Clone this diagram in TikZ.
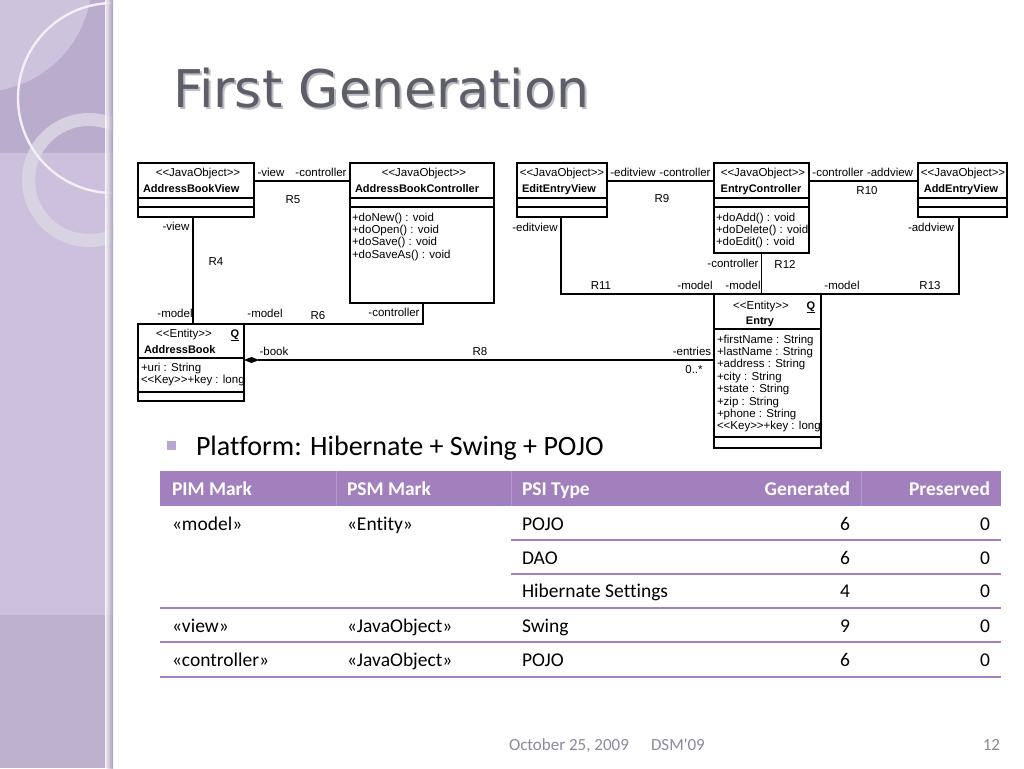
\documentclass[tikz,border=0pt]{standalone}
\usepackage{fontspec}
\setmainfont{Carlito}[Ligatures={CommonOff}]
\newfontfamily\footf{Carlito}[Ligatures={TeXOff,CommonOff}]
\newfontfamily\umlf{Liberation Sans}
\newfontfamily\ttlf{DejaVu Sans}
\usetikzlibrary{arrows.meta}
\definecolor{sideMid}{HTML}{CDC0DC}
\definecolor{sideTop}{HTML}{B9ACCD}
\definecolor{sideLight}{HTML}{CCC3DD}
\definecolor{sideBot}{HTML}{BEB1CD}
\definecolor{sideEdge}{HTML}{A497B4}
\definecolor{ringC}{HTML}{DAD6E3}
\definecolor{arcC}{HTML}{F2F0F6}
\definecolor{tblpurple}{HTML}{A27FBD}
\definecolor{tblsep}{HTML}{B497CC}
\definecolor{bulletC}{HTML}{B9A6D3}
\definecolor{ttlC}{HTML}{5E5E68}
\definecolor{ttlS}{HTML}{BDBDC4}
\definecolor{footC}{HTML}{8A8AA0}
\newcommand\umlfs{\umlf\fontsize{11.5}{12}\selectfont}
\newcommand\umlbfs{\umlf\bfseries\fontsize{11}{12}\selectfont}
\newcommand\tabfs{\fontsize{19.5}{23}\selectfont}
\newcommand\tabhfs{\bfseries\fontsize{19.5}{23}\selectfont}
\newcommand\footfs{\footf\fontsize{17}{20}\selectfont}
\begin{document}
\begin{tikzpicture}[x=1pt,y=-1pt,
  every node/.style={inner sep=0pt, outer sep=0pt},
  uml/.style={font=\umlfs, text=black, text height=8.6pt, text depth=0.2pt},
  umlb/.style={font=\umlbfs, text=black, text height=8.2pt, text depth=0.2pt},
  cls/.style={draw=black, line width=1.1pt, anchor=north west, inner sep=0pt, outer sep=0pt},
  conn/.style={draw=black, line width=1.1pt},
  tab/.style={font=\tabfs, text=black, text height=12.6pt, text depth=0pt},
  tabh/.style={font=\tabhfs, text=white, text height=12.6pt, text depth=0pt},
  sep/.style={draw=tblpurple, line width=1.6pt},
  foot/.style={font=\footfs, text=footC, text height=11pt, text depth=0pt}
]
\useasboundingbox (0,0) rectangle (1024,768);
\fill[white] (0,0) rectangle (1024,768);
% ---------------- sidebar
\begin{scope}
  \clip (0,0) rectangle (113,768);
  \fill[sideMid] (0,0) rectangle (113,768);
  \fill[sideTop] (0,0) rectangle (113,153);
  \fill[sideLight] (-20,-20) circle[radius=112];
  \fill[sideBot] (0,615) rectangle (113,768);
  \draw[ringC, line width=13pt, opacity=0.9] (89,180) circle[radius=60.5];
  \draw[arcC, line width=2.4pt] (113,98) circle[radius=95];
  \shade[left color=sideMid!0, right color=sideEdge, opacity=0.8] (105,0) rectangle (113,768);
\end{scope}
% ---------------- title
\node[anchor=base west, font=\ttlf\fontsize{52}{60}\selectfont, text=ttlS] at (175,109) {First Generation};
\node[anchor=base west, font=\ttlf\fontsize{52}{60}\selectfont, text=ttlC] (title) at (173,107) {First Generation};
% ---------------- UML classes
\node[cls, minimum width=116pt, minimum height=54pt] (abv) at (138,163) {};
\node[cls, minimum width=144pt, minimum height=140pt] (abc) at (350,163) {};
\node[cls, minimum width=106pt, minimum height=77pt] (ab) at (138,324) {};
\node[cls, minimum width=90pt, minimum height=54pt] (eev) at (517,163) {};
\node[cls, minimum width=95pt, minimum height=90pt] (ec) at (714,163) {};
\node[cls, minimum width=89pt, minimum height=54pt] (aev) at (918,163) {};
\node[cls, minimum width=107pt, minimum height=154pt] (en) at (714,294) {};
% compartments
\foreach \b in {abv,abc,eev,ec,aev}{
  \draw[conn] ([yshift=-35pt]\b.north west) -- ([yshift=-35pt]\b.north east);
  \draw[conn] ([yshift=-44pt]\b.north west) -- ([yshift=-44pt]\b.north east);
}
\draw[conn] ([yshift=-34pt]ab.north west) -- ([yshift=-34pt]ab.north east);
\draw[conn] ([yshift=-68pt]ab.north west) -- ([yshift=-68pt]ab.north east);
\draw[conn] ([yshift=-35pt]en.north west) -- ([yshift=-35pt]en.north east);
\draw[conn] ([yshift=-143pt]en.north west) -- ([yshift=-143pt]en.north east);
% class texts
\node[uml] at (198,172) {<{}<JavaObject>{}>};
\node[umlb, anchor=west] at (143,188) {AddressBookView};
\node[uml] at (424,172) {<{}<JavaObject>{}>};
\node[umlb, anchor=west] at (355,188) {AddressBookController};
\foreach \t [count=\i] in {+doNew() : void,+doOpen() : void,+doSave() : void,+doSaveAs() : void}
  \node[uml, anchor=west] at (352,205+12.2*\i) {\t};
\node[uml] at (184,333) {<{}<Entity>{}>};
\node[umlb] at (235,333) {\underline{Q}};
\node[umlb, anchor=west] at (144,349) {AddressBook};
\node[uml, anchor=west] at (141,367) {+uri : String};
\node[uml, anchor=west] at (141,379.5) {<{}<Key>{}>+key : long};
\node[uml] at (562,172) {<{}<JavaObject>{}>};
\node[umlb] at (559,188) {EditEntryView};
\node[uml] at (763,172) {<{}<JavaObject>{}>};
\node[umlb] at (761,188) {EntryController};
\foreach \t [count=\i] in {+doAdd() : void,+doDelete() : void,+doEdit() : void}
  \node[uml, anchor=west] at (716,205+12.2*\i) {\t};
\node[uml] at (963,172) {<{}<JavaObject>{}>};
\node[umlb] at (961,188) {AddEntryView};
\node[uml] at (761,305) {<{}<Entity>{}>};
\node[umlb] at (811,305) {\underline{Q}};
\node[umlb] at (760,320) {Entry};
\foreach \t [count=\i] in {+firstName : String,+lastName : String,+address : String,+city : String,+state : String,+zip : String,+phone : String,<{}<Key>{}>+key : long}
  \node[uml, anchor=west] at (717,326.5+12.4*\i) {\t};
% ---------------- connectors
\draw[conn] ([yshift=-18pt]abv.north east) -- ([yshift=-18pt]abc.north west);
\draw[conn] ([xshift=55pt]abv.south west) -- ([xshift=55pt]ab.north west);
\draw[conn] ([xshift=73pt]abc.south west) |- (ab.north east);
\draw[conn, {Diamond[length=15pt,width=6pt]}-] ([yshift=-36pt]ab.north east) -- ([yshift=-66pt]en.north west);
\draw[conn] ([yshift=-18pt]eev.north east) -- ([yshift=-18pt]ec.north west);
\draw[conn] ([yshift=-18pt]ec.north east) -- ([yshift=-18pt]aev.north west);
\draw[conn] (ec.south) -- (ec.south |- en.north);
\draw[conn] ([xshift=44pt]eev.south west) |- (ec.south |- en.north);
\draw[conn] ([xshift=41pt]aev.south west) |- (ec.south |- en.north);
% connector labels
\node[uml] at (271,172) {-view};
\node[uml] at (321,172) {-controller};
\node[uml] at (293,199) {R5};
\node[uml] at (176,226) {-view};
\node[uml] at (216,261) {R4};
\node[uml] at (175,313) {-model};
\node[uml] at (265,313) {-model};
\node[uml] at (318,315) {R6};
\node[uml] at (394,312) {-controller};
\node[uml] at (274,351) {-book};
\node[uml] at (480,351) {R8};
\node[uml] at (692,351) {-entries};
\node[uml] at (694,369) {0..*};
\node[uml] at (633,172) {-editview};
\node[uml] at (685,172) {-controller};
\node[uml] at (662,198) {R9};
\node[uml] at (838,172) {-controller};
\node[uml] at (890,172) {-addview};
\node[uml] at (867,190) {R10};
\node[uml] at (535,227) {-editview};
\node[uml] at (931,227) {-addview};
\node[uml] at (733,263) {-controller};
\node[uml] at (785,264) {R12};
\node[uml] at (601,285) {R11};
\node[uml] at (695,285) {-model};
\node[uml] at (743,285) {-model};
\node[uml] at (842,285) {-model};
\node[uml] at (930,285) {R13};
% ---------------- bullet
\fill[bulletC] (167,441) rectangle (176,450);
\node[anchor=base west, font=\fontsize{28}{32}\selectfont] (plat) at (196,455) {Platform: Hibernate + Swing + POJO};
% ---------------- table
\fill[tblpurple] (160,471) rectangle (1001,506);
\foreach \x in {336,511,861} \draw[tblsep, line width=0.8pt] (\x,471) -- (\x,506);
\draw[sep] (511,540) -- (1001,540);
\draw[sep] (511,574) -- (1001,574);
\draw[sep] (160,608) -- (1001,608);
\draw[sep] (160,642) -- (1001,642);
\draw[sep] (160,677) -- (1001,677);
\node[tabh, anchor=west] at (172,489) {PIM Mark};
\node[tabh, anchor=west] at (347,489) {PSM Mark};
\node[tabh, anchor=west] at (522,489) {PSI Type};
\node[tabh, anchor=east] at (850,489) {Generated};
\node[tabh, anchor=east] at (990,489) {Preserved};
\node[tab, anchor=west] at (172,524) {«model»};
\node[tab, anchor=west] at (347,524) {«Entity»};
\node[tab, anchor=west] at (522,524) {POJO};
\node[tab, anchor=east] at (850,524) {6};
\node[tab, anchor=east] at (990,524) {0};
\node[tab, anchor=west] at (522,558) {DAO};
\node[tab, anchor=east] at (850,558) {6};
\node[tab, anchor=east] at (990,558) {0};
\node[tab, anchor=west] at (522,591) {Hibernate Settings};
\node[tab, anchor=east] at (850,591) {4};
\node[tab, anchor=east] at (990,591) {0};
\node[tab, anchor=west] at (172,626) {«view»};
\node[tab, anchor=west] at (347,626) {«JavaObject»};
\node[tab, anchor=west] at (522,626) {Swing};
\node[tab, anchor=east] at (850,626) {9};
\node[tab, anchor=east] at (990,626) {0};
\node[tab, anchor=west] at (172,660) {«controller»};
\node[tab, anchor=west] at (347,660) {«JavaObject»};
\node[tab, anchor=west] at (522,660) {POJO};
\node[tab, anchor=east] at (850,660) {6};
\node[tab, anchor=east] at (990,660) {0};
% ---------------- footer
\node[foot, anchor=west] at (509,745) {October 25, 2009};
\node[foot, anchor=west] at (651,745) {DSM'09};
\node[foot, anchor=east] at (1000,745) {12};
\end{tikzpicture}
\end{document}
